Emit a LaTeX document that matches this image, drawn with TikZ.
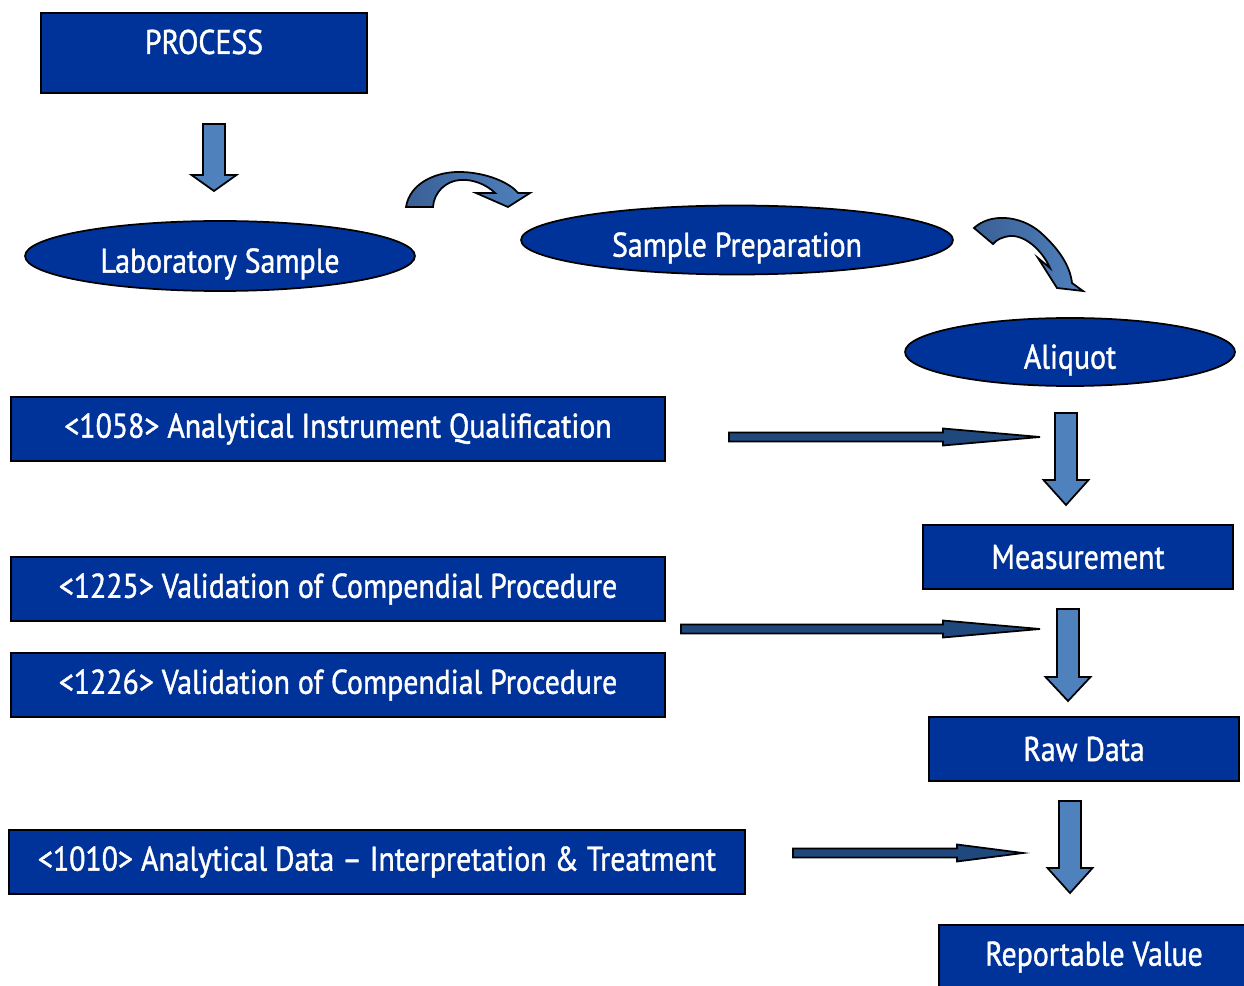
\documentclass[tikz,border=0pt]{standalone}
\usepackage{fontspec}
\setmainfont[FakeStretch=0.87,FakeBold=1.2]{PT Sans}
\usetikzlibrary{shapes.geometric,calc}
\definecolor{boxblue}{RGB}{0,51,153}
\definecolor{fatblue}{RGB}{79,129,189}
\definecolor{slimblue}{RGB}{31,73,125}
\definecolor{curvyblue}{RGB}{58,96,150}
\begin{document}
\begin{tikzpicture}[x=0.02cm, y=-0.02cm,
  box/.style={draw=black, line width=1pt, fill=boxblue, text=white, minimum height=1.28cm, inner sep=0pt, font=\fontsize{19.5}{22}\selectfont},
  oval/.style={ellipse, draw=black, line width=1pt, fill=boxblue, text=white, inner sep=0pt, text height=19pt, text depth=0pt, font=\fontsize{19.5}{22}\selectfont},
  fat/.style={draw=black, line width=1pt, fill=fatblue},
  slim/.style={draw=black, line width=1pt, fill=slimblue},
  curvy/.style={draw=black, line width=1pt, left color=curvyblue, right color=fatblue}]
\useasboundingbox (0,0) rectangle (1244,986);

\node (proc) at (204,53) [box, minimum width=6.52cm, minimum height=1.6cm, text depth=0.45cm] {PROCESS};
\node (lab) at (220,256) [oval, minimum width=7.8cm, minimum height=1.4cm] {Laboratory Sample};
\node (prep) at (737,240) [oval, minimum width=8.64cm, minimum height=1.38cm] {Sample Preparation};
\node (aliq) at (1070,352) [oval, minimum width=6.6cm, minimum height=1.36cm] {Aliquot};
\node (meas) at (1078,557) [box, minimum width=6.2cm] {Measurement};
\node (raw) at (1084,749) [box, minimum width=6.2cm] {Raw Data};
\node (rep) at (1094,957) [box, minimum width=6.2cm] {Reportable Value};

\node (q1058) at (338,429) [box, minimum width=13.08cm] {<1058> Analytical Instrument Qualification};
\node (v1225) at (338,589) [box, minimum width=13.08cm] {<1225> Validation of Compendial Procedure};
\node (v1226) at (338,685) [box, minimum width=13.08cm] {<1226> Validation of Compendial Procedure};
\node (d1010) at (377,862) [box, minimum width=14.72cm] {<1010> Analytical Data -- Interpretation \& Treatment};

\coordinate (f1s) at (214,124);  \coordinate (f1e) at (214,191);
\coordinate (f2s) at (1066,413); \coordinate (f2e) at (1066,505);
\coordinate (f3s) at (1068,609); \coordinate (f3e) at (1068,701);
\coordinate (f4s) at (1070,801); \coordinate (f4e) at (1070,893);
\foreach \s/\e/\h in {f1s/f1e/16, f2s/f2e/25, f3s/f3e/24, f4s/f4e/25}
  \draw[fat] ($(\s)+(-11,0)$) -- ($(\e)+(-11,-\h)$) -- ($(\e)+(-22.5,-\h)$) -- (\e)
    -- ($(\e)+(22.5,-\h)$) -- ($(\e)+(11,-\h)$) -- ($(\s)+(11,0)$) -- cycle;

\coordinate (t1s) at (729,437); \coordinate (t1e) at (1040,437);
\coordinate (t2s) at (681,629); \coordinate (t2e) at (1040,629);
\coordinate (t3s) at (793,853); \coordinate (t3e) at (1023,853);
\foreach \s/\e/\h in {t1s/t1e/97, t2s/t2e/97, t3s/t3e/66}
  \draw[slim] ($(\s)+(0,-4.5)$) -- ($(\e)+(-\h,-4.5)$) -- ($(\e)+(-\h,-8.5)$) -- (\e)
    -- ($(\e)+(-\h,8.5)$) -- ($(\e)+(-\h,4.5)$) -- ($(\s)+(0,4.5)$) -- cycle;

\draw[curvy] (406,207) .. controls (410,182) and (438,171) .. (462,172)
  .. controls (488,173) and (510,183) .. (518,193) -- (530,193) -- (508,207) -- (476,193) -- (495,193)
  .. controls (486,184) and (472,179) .. (460,180) .. controls (446,181) and (434,192) .. (433,207) -- cycle;
\draw[curvy] (974,228) .. controls (990,213) and (1020,215) .. (1040,232)
  .. controls (1058,248) and (1070,265) .. (1072,283) -- (1083,291) -- (1057,288) -- (1038,258) -- (1050,268)
  .. controls (1042,250) and (1025,235) .. (1010,236) .. controls (1002,237) and (996,240) .. (993,244) -- cycle;
\end{tikzpicture}
\end{document}
